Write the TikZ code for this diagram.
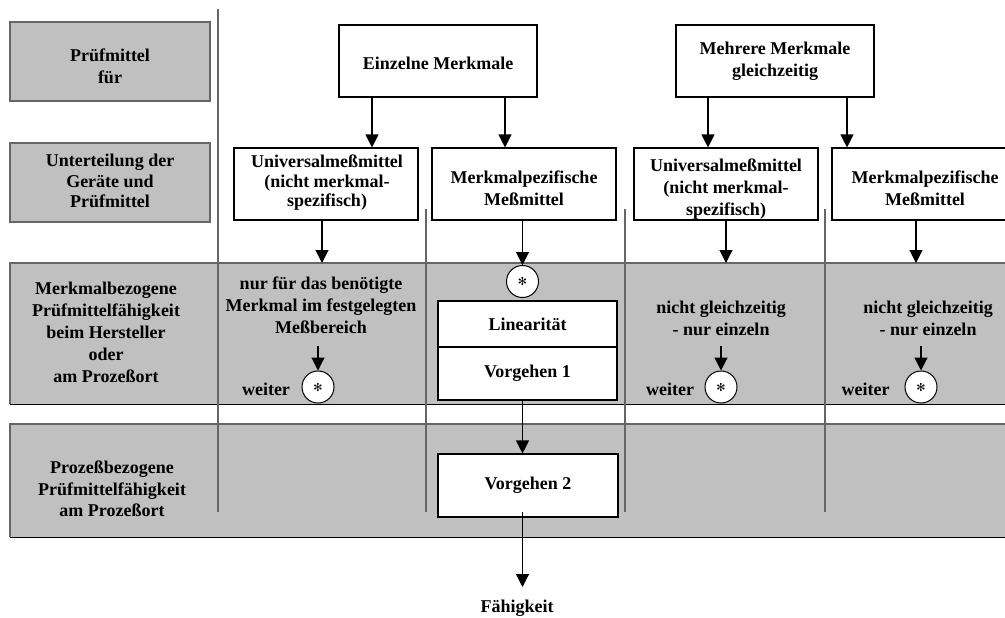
\documentclass[tikz,border=0pt]{standalone}
\usepackage{fontspec}
\setmainfont{Liberation Serif}
\newfontfamily\djv{DejaVu Sans}
\usetikzlibrary{arrows.meta}
\definecolor{bandgray}{HTML}{C0C0C0}
\definecolor{edgegray}{HTML}{666666}
\begin{document}
\begin{tikzpicture}[x=1pt,y=-1pt,
  every node/.style={font=\bfseries\fontsize{18}{22}\selectfont},
  txt/.style={align=center,inner sep=0pt},
  wbox/.style={draw=black,line width=1.1pt,fill=white,inner sep=0pt},
  gbox/.style={draw=edgegray,line width=1.1pt,fill=bandgray,inner sep=0pt},
  band/.style={fill=bandgray,inner sep=0pt,anchor=north west,minimum width=1010pt},
  star/.style={circle,draw=black,line width=1pt,fill=white,minimum size=32pt,inner sep=0pt,font=\djv\fontsize{11}{11}\selectfont},
  arr/.style={line width=1.1pt,-{Triangle[width=13pt,length=13pt]}},
  vline/.style={draw=edgegray,line width=1.1pt}
]
\useasboundingbox (0,0) rectangle (1005,618);

% bands
\node[band,minimum height=141pt] (band1) at (10,263) {};
\node[band,minimum height=113pt] (band2) at (10,424) {};
\draw[edgegray,line width=1.1pt] (band1.south west) -- (band1.north west) -- (band1.north east);
\draw[black,line width=1.1pt] (band1.south west) -- (band1.south east);
\draw[edgegray,line width=1.1pt] (band2.south west) -- (band2.north west) -- (band2.north east);
\draw[black,line width=1.1pt] (band2.south west) -- (band2.south east);

% vertical separators
\coordinate (v0a) at (218,9);   \coordinate (v0b) at (218,512);
\coordinate (v1a) at (426,209); \coordinate (v1b) at (426,512);
\coordinate (v2a) at (625,209); \coordinate (v2b) at (625,512);
\coordinate (v3a) at (825,209); \coordinate (v3b) at (825,512);
\draw[vline] (v0a) -- (v0b);
\draw[vline] (v1a) -- (v1b);
\draw[vline] (v2a) -- (v2b);
\draw[vline] (v3a) -- (v3b);

% left labels
\node[gbox,minimum width=200pt,minimum height=79pt] (lab1) at (110,61.5) {};
\node[txt] (lab1t) at (110,66) {Prüfmittel\\für};
\node[gbox,minimum width=200pt,minimum height=79pt] (lab2) at (110,182.5) {};
\node[txt,font=\bfseries\fontsize{18}{20.5}\selectfont] (lab2t) at (110,181) {Unterteilung der\\Geräte und\\Prüfmittel};
\node[txt] (lab3t) at (106,332) {Merkmalbezogene\\Prüfmittelfähigkeit\\beim Hersteller\\oder\\am Prozeßort};
\node[txt,font=\bfseries\fontsize{18}{21.5}\selectfont] (lab4t) at (112,489) {Prozeßbezogene\\Prüfmittelfähigkeit\\am Prozeßort};

% top boxes
\node[wbox,minimum width=198pt,minimum height=72pt] (ein) at (438,61) {};
\node[txt] (eint) at (438,63) {Einzelne Merkmale};
\node[wbox,minimum width=198pt,minimum height=72pt] (mehr) at (775,61) {};
\node[txt] (mehrt) at (775,61) {Mehrere Merkmale\\gleichzeitig};

% second row
\node[wbox,minimum width=184pt,minimum height=72pt] (uni1) at (326,184) {};
\node[txt,font=\bfseries\fontsize{18}{19.5}\selectfont] (uni1t) at (327,183) {Universalmeßmittel\\(nicht merkmal-\\spezifisch)};
\node[wbox,minimum width=184pt,minimum height=72pt] (spez1) at (524,184) {};
\node[txt] (spez1t) at (524,188) {Merkmalpezifische\\Meßmittel};
\node[wbox,minimum width=184pt,minimum height=72pt] (uni2) at (726,184) {};
\node[txt] (uni2t) at (726,189) {Universalmeßmittel\\(nicht merkmal-\\spezifisch)};
\node[wbox,minimum width=186pt,minimum height=72pt] (spez2) at (925,184) {};
\node[txt] (spez2t) at (925,188) {Merkmalpezifische\\Meßmittel};

% arrows row 1 -> row 2
\draw[arr] ([xshift=-66pt]ein.south) -- ([xshift=-66pt]ein.south |- uni1.north);
\draw[arr] ([xshift=67pt]ein.south) -- ([xshift=67pt]ein.south |- spez1.north);
\draw[arr] ([xshift=-67pt]mehr.south) -- ([xshift=-67pt]mehr.south |- uni2.north);
\draw[arr] ([xshift=72pt]mehr.south) -- ([xshift=72pt]mehr.south |- spez2.north);

% band 1 content
\node[star] (c1) at (522.5,281.5) {✻};
\node[wbox,minimum width=179pt,minimum height=46pt] (lin) at (527.5,324) {Linearität};
\node[wbox,minimum width=179pt,minimum height=53pt] (vor1) at (527.5,373.5) {Vorgehen 1};
\node[wbox,minimum width=180pt,minimum height=63pt] (vor2) at (528,485.5) {Vorgehen 2};

\node[txt] (t1) at (321,305) {nur für das benötigte\\Merkmal im festgelegten\\Meßbereich};
\node[star] (w1) at (318,387) {✻};
\node[txt] (we1) at (266,389) {weiter};
\coordinate (a1) at (318,346);

\node[txt] (t3) at (721,318) {nicht gleichzeitig\\- nur einzeln};
\node[star] (w3) at (721,387) {✻};
\node[txt] (we3) at (670,389) {weiter};
\coordinate (a3) at (721,346);

\node[txt] (t4) at (928,318) {nicht gleichzeitig\\- nur einzeln};
\node[star] (w4) at (921,387) {✻};
\node[txt] (we4) at (865.5,389) {weiter};
\coordinate (a4) at (921,346);

% arrows row 2 -> band
\draw[arr] ([xshift=-4pt]uni1.south) -- ([xshift=-4pt]uni1.south |- band1.north);
\draw[arr] (spez1.south -| c1) -- (c1.north);
\draw[arr] (uni2.south) -- (uni2.south |- band1.north);
\draw[arr] ([xshift=-9pt]spez2.south) -- ([xshift=-9pt]spez2.south |- band1.north);

% small arrows to circles
\draw[arr] (a1) -- (w1.north);
\draw[arr] (a3) -- (w3.north);
\draw[arr] (a4) -- (w4.north);

% process chain
\draw[arr] (vor1.south -| c1) -- (vor2.north -| c1);
\node[txt] (fah) at (517,608) {Fähigkeit};
\coordinate (fahtop) at (522.5,587);
\draw[arr] ([yshift=6pt]vor2.south -| c1) -- (fahtop);
\end{tikzpicture}
\end{document}
